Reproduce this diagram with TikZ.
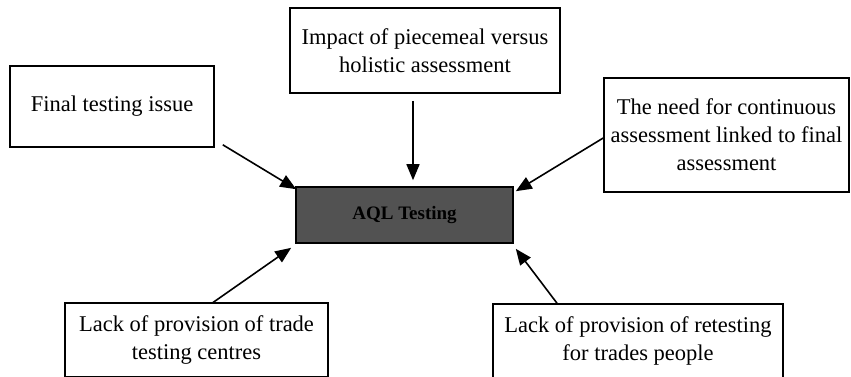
\documentclass[tikz,border=0pt]{standalone}
\usepackage{fontspec}
\setmainfont{Liberation Serif}
\usetikzlibrary{arrows.meta}
\tikzset{bx/.style = {rectangle, line width=1.6pt, inner sep=2pt, align=center, font=\fontsize{22.5}{28}\selectfont, draw},
         hub/.style = {rectangle, line width=1.6pt, inner sep=2pt, fill=black!68, font=\bfseries\fontsize{19}{22}\selectfont, draw}}

\begin{document}
\begin{tikzpicture}[x=1pt, y=-1pt, >={Triangle[length=16pt, width=13pt]}, line width=1.6pt]
    \clip (0,0) rectangle (851,376);
    \node[hub, minimum width=217pt, minimum height=56pt] (aql) at (404.5,215) {AQL Testing};
    \node[bx, minimum width=204pt, minimum height=81pt] (fin) at (112,106.5) {Final testing issue};
    \node[bx, minimum width=270pt, minimum height=85pt] (imp) at (425,50.5) {Impact of piecemeal versus\\holistic assessment};
    \node[bx, minimum width=245pt, minimum height=114pt] (need) at (726.5,135) {The need for continuous\\assessment linked to final\\assessment};
    \node[bx, minimum width=263pt, minimum height=74pt] (ltc) at (196.5,340) {Lack of provision of trade\\testing centres};
    \node[bx, minimum width=290pt, minimum height=74pt] (rtp) at (638,341) {Lack of provision of retesting\\for trades people};
    \draw[->] ([shift={(8,-3)}]fin.south east) -- ([shift={(1,3)}]aql.north west);
    \draw[->] ([shift={(-12,7)}]imp.south) -- ([shift={(8.5,-6)}]aql.north);
    \draw[->] ([shift={(0,3)}]need.west) -- ([shift={(2,5)}]aql.north east);
    \draw[->] ([shift={(15.5,1)}]ltc.north) -- ([shift={(-4,4)}]aql.south west);
    \draw[->] ([shift={(-81,0)}]rtp.north) -- ([shift={(2,5)}]aql.south east);
\end{tikzpicture}
\end{document}
